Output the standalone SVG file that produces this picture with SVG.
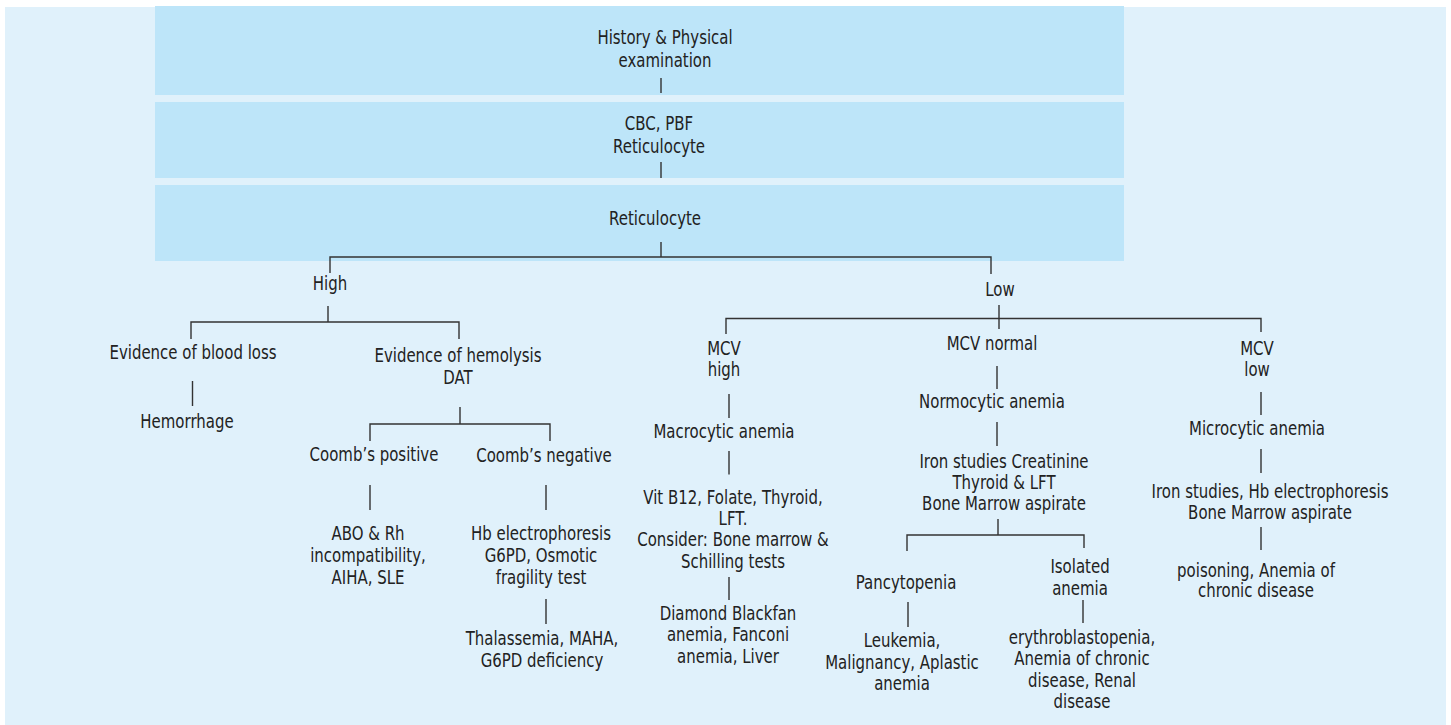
<svg xmlns="http://www.w3.org/2000/svg" width="1451" height="725" viewBox="0 0 1451 725">
<style>
.bg{fill:#E0F1FB}
.band{fill:#BDE5F9}
text{font-family:"DejaVu Sans","Verdana",sans-serif;font-size:19px;fill:#222;text-anchor:middle}
.c{fill:none;stroke:#333;stroke-width:1.4}
</style>
<rect class="bg" x="5" y="7" width="1441" height="718"/>
<g id="n-history"><rect class="band" x="155" y="6" width="969" height="89"/>
<text transform="translate(665 0) scale(0.7875 1)"><tspan x="0" y="44">History &amp; Physical</tspan><tspan x="0" y="67">examination</tspan></text></g>
<g id="n-cbc"><rect class="band" x="155" y="102" width="969" height="76"/>
<text transform="translate(659 0) scale(0.7875 1)"><tspan x="0" y="130">CBC, PBF</tspan><tspan x="0" y="153">Reticulocyte</tspan></text></g>
<g id="n-retic"><rect class="band" x="155" y="185" width="969" height="76"/>
<text transform="translate(655 0) scale(0.7875 1)"><tspan x="0" y="225">Reticulocyte</tspan></text></g>
<g id="n-high"><text transform="translate(330 0) scale(0.7875 1)"><tspan x="0" y="290">High</tspan></text></g>
<g id="n-low"><text transform="translate(1000 0) scale(0.7875 1)"><tspan x="0" y="296">Low</tspan></text></g>
<g id="n-bloodloss"><text transform="translate(193 0) scale(0.7875 1)"><tspan x="0" y="359">Evidence of blood loss</tspan></text></g>
<g id="n-hemorrhage"><text transform="translate(187 0) scale(0.7875 1)"><tspan x="0" y="428">Hemorrhage</tspan></text></g>
<g id="n-hemolysis"><text transform="translate(458 0) scale(0.7875 1)"><tspan x="0" y="362">Evidence of hemolysis</tspan><tspan x="0" y="384">DAT</tspan></text></g>
<g id="n-coombpos"><text transform="translate(374 0) scale(0.7875 1)"><tspan x="0" y="461">Coomb’s positive</tspan></text></g>
<g id="n-coombneg"><text transform="translate(544 0) scale(0.7875 1)"><tspan x="0" y="462">Coomb’s negative</tspan></text></g>
<g id="n-abo"><text transform="translate(368 0) scale(0.7875 1)"><tspan x="0" y="540">ABO &amp; Rh</tspan><tspan x="0" y="562">incompatibility,</tspan><tspan x="0" y="584">AIHA, SLE</tspan></text></g>
<g id="n-hbelec"><text transform="translate(541 0) scale(0.7875 1)"><tspan x="0" y="540">Hb electrophoresis</tspan><tspan x="0" y="562">G6PD, Osmotic</tspan><tspan x="0" y="584">fragility test</tspan></text></g>
<g id="n-thal"><text transform="translate(542 0) scale(0.7875 1)"><tspan x="0" y="645">Thalassemia, MAHA,</tspan><tspan x="0" y="667">G6PD deficiency</tspan></text></g>
<g id="n-mcvhigh"><text transform="translate(724 0) scale(0.7875 1)"><tspan x="0" y="355">MCV</tspan><tspan x="0" y="376">high</tspan></text></g>
<g id="n-macro"><text transform="translate(724 0) scale(0.7875 1)"><tspan x="0" y="438">Macrocytic anemia</tspan></text></g>
<g id="n-vitb12"><text transform="translate(733 0) scale(0.7875 1)"><tspan x="0" y="504">Vit B12, Folate, Thyroid,</tspan><tspan x="0" y="525">LFT.</tspan><tspan x="0" y="546.5">Consider: Bone marrow &amp;</tspan><tspan x="0" y="568">Schilling tests</tspan></text></g>
<g id="n-diamond"><text transform="translate(728 0) scale(0.7875 1)"><tspan x="0" y="620">Diamond Blackfan</tspan><tspan x="0" y="641.5">anemia, Fanconi</tspan><tspan x="0" y="663">anemia, Liver</tspan></text></g>
<g id="n-mcvnormal"><text transform="translate(992 0) scale(0.7875 1)"><tspan x="0" y="350.5">MCV normal</tspan></text></g>
<g id="n-normo"><text transform="translate(992 0) scale(0.7875 1)"><tspan x="0" y="408">Normocytic anemia</tspan></text></g>
<g id="n-ironcreat"><text transform="translate(1004 0) scale(0.7875 1)"><tspan x="0" y="468">Iron studies Creatinine</tspan><tspan x="0" y="489">Thyroid &amp; LFT</tspan><tspan x="0" y="510">Bone Marrow aspirate</tspan></text></g>
<g id="n-pancyto"><text transform="translate(906 0) scale(0.7875 1)"><tspan x="0" y="589">Pancytopenia</tspan></text></g>
<g id="n-leuk"><text transform="translate(902 0) scale(0.7875 1)"><tspan x="0" y="647.5">Leukemia,</tspan><tspan x="0" y="669">Malignancy, Aplastic</tspan><tspan x="0" y="690.5">anemia</tspan></text></g>
<g id="n-isolated"><text transform="translate(1080 0) scale(0.7875 1)"><tspan x="0" y="573">Isolated</tspan><tspan x="0" y="595">anemia</tspan></text></g>
<g id="n-erythro"><text transform="translate(1082 0) scale(0.7875 1)"><tspan x="0" y="644">erythroblastopenia,</tspan><tspan x="0" y="665.5">Anemia of chronic</tspan><tspan x="0" y="687">disease, Renal</tspan><tspan x="0" y="708.5">disease</tspan></text></g>
<g id="n-mcvlow"><text transform="translate(1257 0) scale(0.7875 1)"><tspan x="0" y="355">MCV</tspan><tspan x="0" y="376">low</tspan></text></g>
<g id="n-micro"><text transform="translate(1257 0) scale(0.7875 1)"><tspan x="0" y="435.5">Microcytic anemia</tspan></text></g>
<g id="n-ironhb"><text transform="translate(1270 0) scale(0.7875 1)"><tspan x="0" y="498">Iron studies, Hb electrophoresis</tspan><tspan x="0" y="519">Bone Marrow aspirate</tspan></text></g>
<g id="n-poison"><text transform="translate(1256 0) scale(0.7875 1)"><tspan x="0" y="576.5">poisoning, Anemia of</tspan><tspan x="0" y="597">chronic disease</tspan></text></g>
<g id="connectors" class="c">
<path class="c" d="M661 78V93M661 162V178M661 242V257M330 273V257H991V274"/>
<path class="c" d="M328 306V322M191 339V322H459V339M192.5 381V406"/>
<path class="c" d="M460 407V424M370 441V424H550V441M370 485V510M546 485V510M546 599V624"/>
<path class="c" d="M999 305V329M726 334V318.5H1261V332"/>
<path class="c" d="M997 366V389M997 422V446M998 519V535M907 551V535H1084V548M908 602V627M1083 600V623"/>
<path class="c" d="M729 394V418M729 451V474.5M729 577V600"/>
<path class="c" d="M1261 392V415M1261 449V473M1261 527V550"/>
</g>
</svg>
